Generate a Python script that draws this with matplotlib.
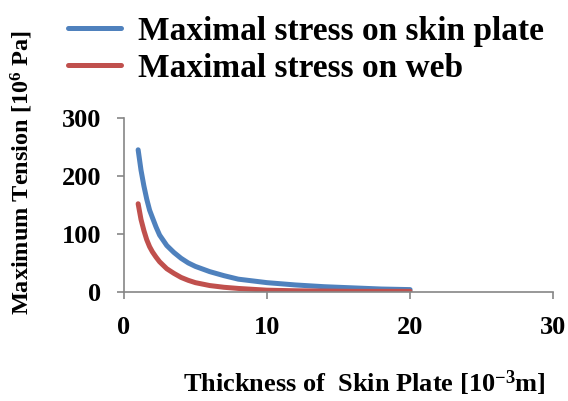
import numpy as np
import matplotlib.pyplot as plt

# values
thickness = [1, 1.2, 1.4, 1.6, 1.8, 2, 2.25, 2.5, 3, 3.5, 4, 4.5, 5, 6, 7, 8, 9, 10, 12, 14, 16, 18, 20]
stress_skin = [245, 210, 183, 160, 141, 128, 112, 98, 80, 68, 58, 50, 44, 35, 28, 22, 19, 16, 12, 9, 7, 5, 4]
stress_web = [152, 125, 106, 90, 78, 69, 60, 52, 40, 32, 25, 20, 16, 11, 8, 6, 4.5, 3, 2, 1.5, 1, 1, 1]
labels = ["Maximal stress on skin plate", "Maximal stress on web"]

plt.rcParams['font.family'] = ['Liberation Serif', 'DejaVu Serif']
plt.rcParams['font.weight'] = 'bold'
plt.rcParams['mathtext.fontset'] = 'custom'
plt.rcParams['mathtext.rm'] = 'Liberation Serif:bold'
plt.rcParams['mathtext.it'] = 'Liberation Serif:bold'
plt.rcParams['mathtext.bf'] = 'Liberation Serif:bold'

fig = plt.figure(figsize=(5.68, 4.01), dpi=100)
ax = fig.add_axes([0.218, 0.272, 0.756, 0.434])

l1, = ax.plot(thickness, stress_skin, color='#4F81BD', lw=3.6, solid_capstyle='round')
l2, = ax.plot(thickness, stress_web, color='#C0504D', lw=3.6, solid_capstyle='round')

ax.set_xlim(0, 30)
ax.set_ylim(0, 300)
ax.set_xticks([0, 10, 20, 30])
ax.set_yticks([0, 100, 200, 300])
for s in ['top', 'right']:
    ax.spines[s].set_visible(False)
for s in ['left', 'bottom']:
    ax.spines[s].set_color('#868686')
    ax.spines[s].set_linewidth(1.2)
ax.tick_params(colors='#868686', length=5, width=1.2, labelcolor='black', labelsize=19)
ax.tick_params(axis='x', pad=12)
ax.tick_params(axis='y', pad=11)

fig.text(0.039, 0.57, 'Maximum Tension [10$^{6}$ Pa]', rotation=90, ha='center', va='center',
         fontsize=17.5, fontweight='bold')
fig.text(0.641, 0.045, 'Thickness of  Skin Plate [10$^{-3}$m]', ha='center', va='center',
         fontsize=19, fontweight='bold')

fig.legend([l1, l2], labels, loc='upper left', bbox_to_anchor=(0.12, 0.96), frameon=False,
           fontsize=24, handlelength=1.6, handletextpad=0.5, labelspacing=0.18,
           borderpad=0, borderaxespad=0)

fig.savefig('out.png', dpi=100)
